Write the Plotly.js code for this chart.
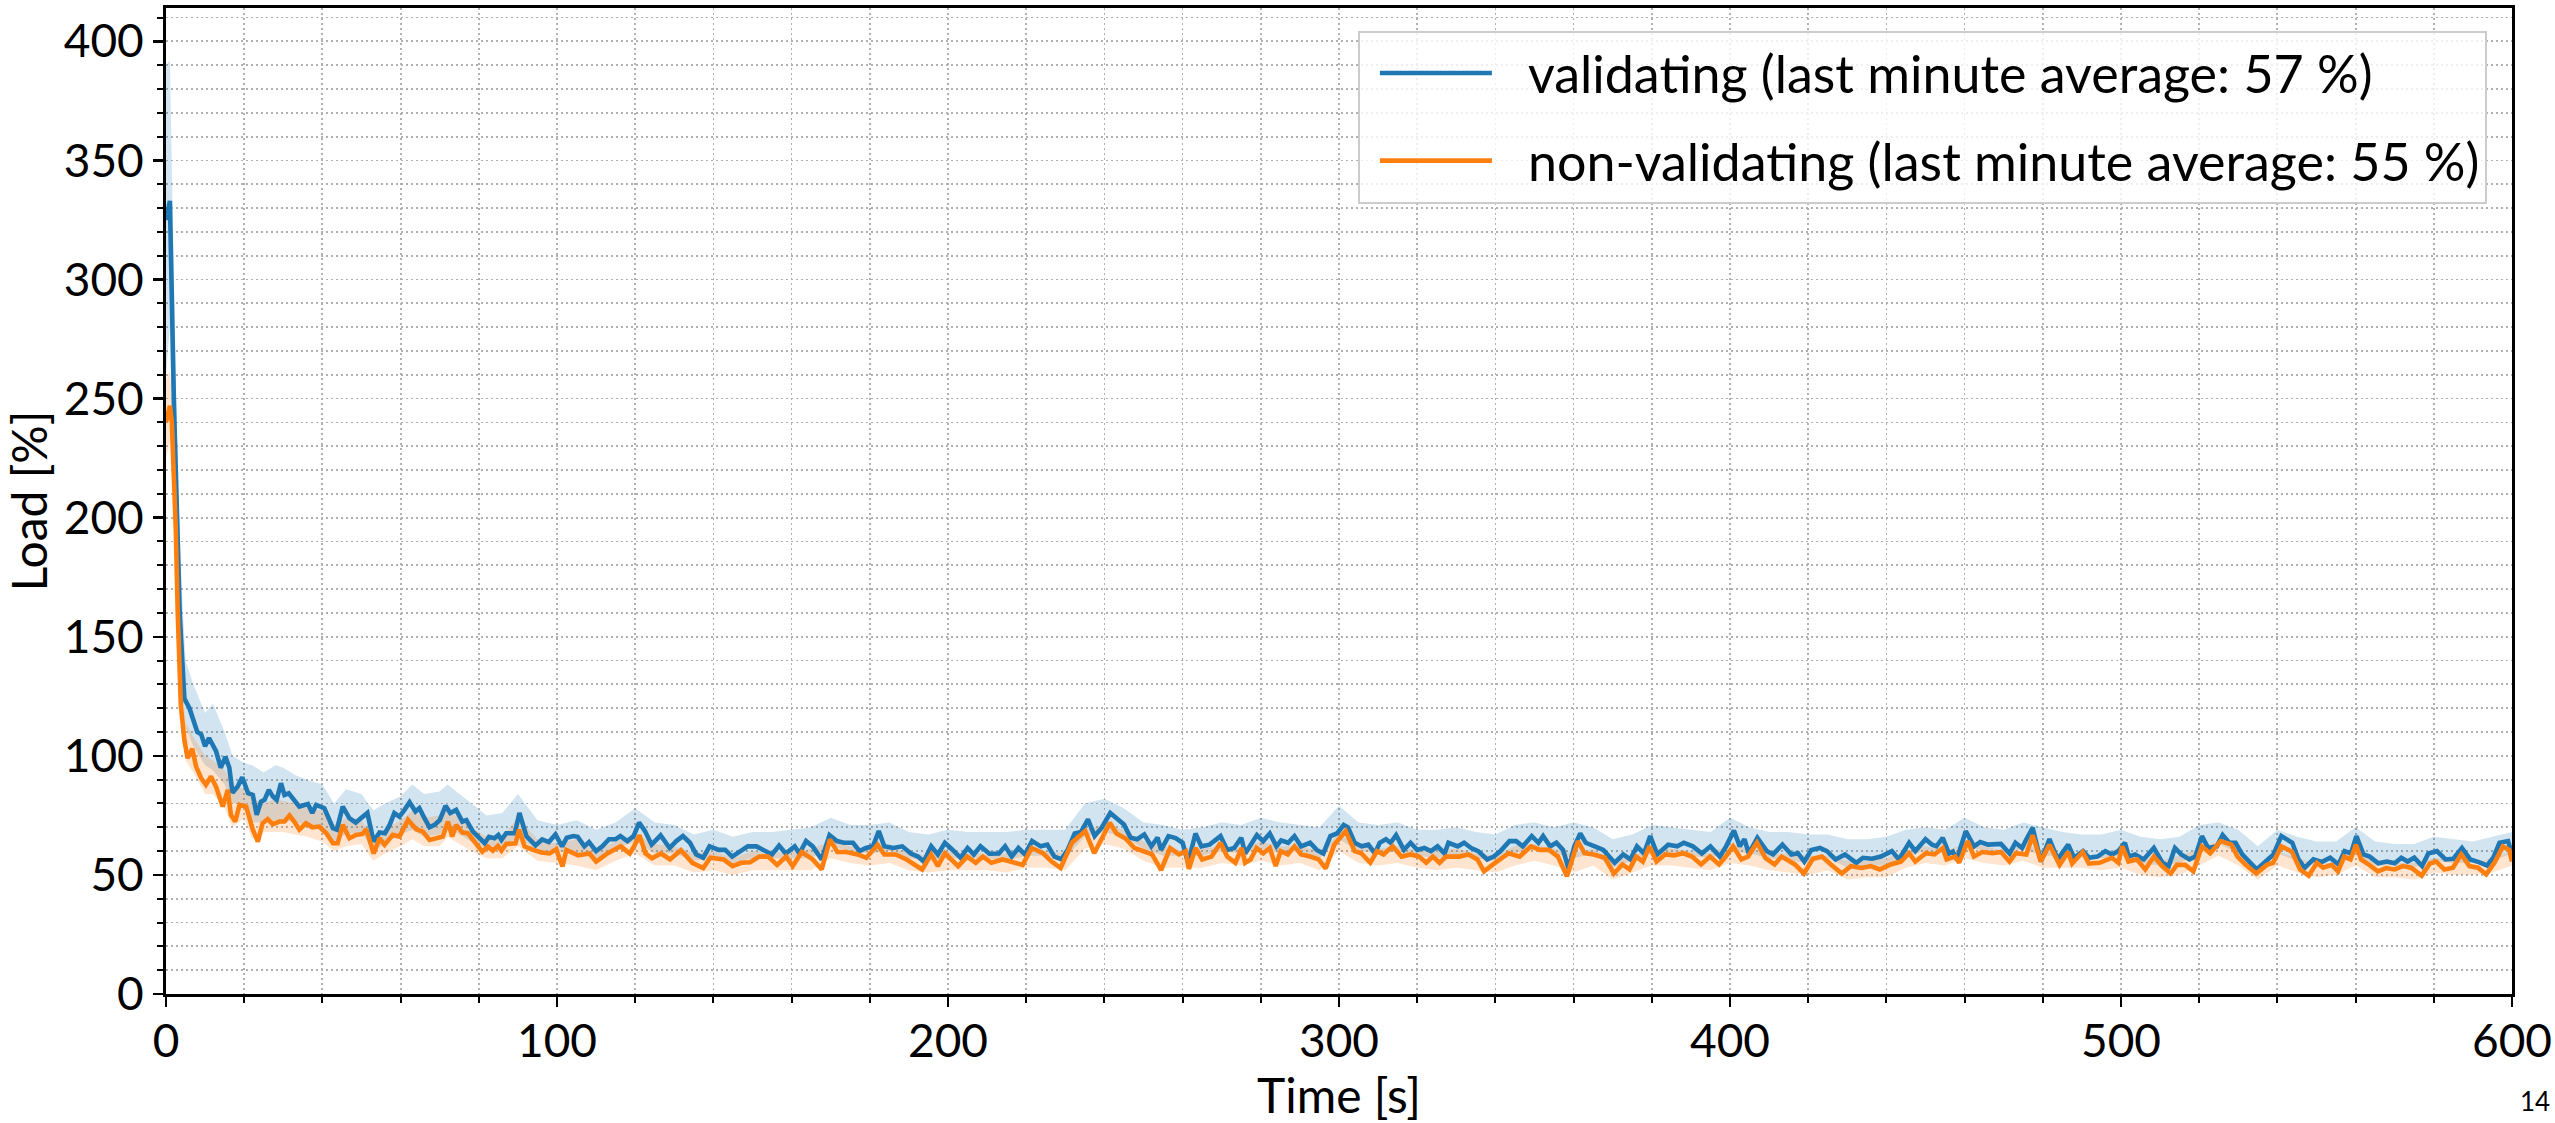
<!DOCTYPE html>
<html>
<head>
<meta charset="utf-8">
<script src="https://cdn.plot.ly/plotly-3.0.1.min.js"></script>
<style>html,body{margin:0;padding:0;background:#fff;}#chart{width:2555px;height:1123px;}</style>
</head>
<body>
<div id="chart"></div>
<script>
// ---- data ----
const seriesNames = [
  'validating (last minute average: 57 %)',
  'non-validating (last minute average: 55 %)'
];
const xTicks = [0, 100, 200, 300, 400, 500, 600];
const yTicks = [0, 50, 100, 150, 200, 250, 300, 350, 400];

const tValidating = [
  0,1,2,2.5,3,3.5,4,4.7,6,6.8,
  8,9,10,11,12.8,14,15.2,16.2,17,18.3,
  19.5,21,22.2,23.2,24.3,25.2,26.3,27.3,28.3,29.4,
  30.3,31.4,32.8,34.1,36.3,37.4,38.4,40.5,42.7,43.7,
  45.2,46.9,48.5,50,51.5,53.1,54.6,56,57.2,58.4,
  59.7,61,62.3,63.8,64.8,66.1,67.4,68.7,70,71.5,
  72.7,74.2,75.8,76.8,78.5,80.2,81.5,82.6,84,85,
  85.8,87,89.2,90.4,92.2,94.5,96.2,97.9,99.6,101.3,
  102.5,104.2,105.3,107,108.2,110,111.6,113.3,115,116.2,
  118,119.6,121,122.5,124.2,126.5,128.8,130.5,132.2,134,
  135.6,137.4,139,141.4,143,144.8,146.5,148.8,151,152.8,
  155,156.8,158.5,160.8,162,163.7,165.4,167.7,169.7,171.6,
  173.4,175.7,177.4,179,180.8,182.3,183.7,186,188.3,190.5,
  192.3,193.8,195.7,197.4,199.2,201,203.2,205,206.6,208.3,
  210.6,213,214.6,216.3,218,219.7,221.5,223.7,225.4,227.2,
  229,230.6,232.4,234,235.8,237.5,239.3,241.5,243.3,245,
  246.7,248.4,250.2,252,253.6,254.5,256.4,258.2,260,261.4,
  263.3,264.8,266.9,269.7,271.4,273.2,275,276,277.2,279,
  280.6,282.3,284,285.2,287,288.6,290.3,292.6,294.3,296,
  297.8,299.5,301.2,302.3,304,305.8,307.5,309.2,310.4,312,
  313.2,314.6,316.6,318.3,320,321.8,323.5,325.2,327,328,
  330.4,332,333.8,335.6,337.9,339.6,341.3,343.6,345.3,347,
  349.3,351,352.2,354,355.6,357.3,358.7,360.2,361.7,363.1,
  365.4,367.6,370.5,372.7,374.5,376.2,378,379.6,381.4,384.2,
  386.5,388.2,390.5,392.8,395,397.4,399,401,402.5,403.7,
  404.8,407,409.4,411,413.4,415.7,417.4,419,420.8,423,
  424.8,427,429.4,432.3,434,436.3,438.6,441.4,443.2,445.8,
  447.4,450,451.7,452.8,454.4,456,457,458,460.3,462.4,
  464,466,469.3,471.5,473,474.7,475.8,477.4,479.5,481.7,
  483.8,486.5,488,490.3,491.8,494,496,497.7,499.3,501,
  502,503.6,505.8,508.4,510.6,512.2,513.8,515.4,517.5,519,
  520.7,522.3,524.5,526,527.7,529.3,531,533,534.7,537,
  539,541,543.8,545.4,547,549.2,551.3,553.5,555.6,557.2,
  558.8,560.2,562,563.6,565.8,568,570,571.7,573.3,575,
  577,578.6,580.8,583,585,587.2,589.3,591.5,593.6,595.2,
  596.8,599,600
];
const loadValidating = [
  325,333,250,215,185,160,145,124,120,116,
  110,109,104,107.5,102,95,99.6,95,84.5,87,
  91,84.3,83.6,75.2,80.8,81.5,85.7,83,81.5,88.5,
  83.6,84.3,81.5,78.7,79.8,76,79.4,78,69.6,69,
  78.7,73.8,72,74.2,76,64,67.8,67.5,71,76,
  74.5,77.3,80.5,76.6,78,73.8,70,71,73,79,
  76,77.3,72.4,73,68.2,65.4,63.3,66,65.4,66.8,
  64.7,67.5,67.5,76,66.2,62.4,64.9,63.8,67,62,
  65.6,66.3,66,62,63.8,60,62,65,65,66.3,
  64.2,66.3,72,68.4,62.7,66.6,61.3,64.2,66.3,63.5,
  58.6,57.2,62,60.5,60.5,57.7,59.3,62,62,60.5,
  58.6,62.3,59,62,59,64.2,62,56.5,66.7,64.2,
  63.5,63.5,60,61.3,62,68.4,62,61.3,62,59,
  57.7,55.6,62,58.6,63.5,60.8,57.2,61.3,58.6,62,
  58.9,59,62,57.7,61.3,58.6,64.2,62,62.7,57.7,
  56.6,60.5,67.4,68,73.3,66.3,69.8,76,73.3,71.2,
  65.6,65,67,62,65.7,60.5,66.3,65.5,63.5,55.1,
  67.4,62,62.7,66.3,60.5,61.3,65.6,59,62,66.7,
  64.2,67.4,62,64.5,63.5,66.3,62,63.5,60.5,59,
  66.3,67.4,71,70,63.5,62,62.7,59,63.5,65,
  63.5,66.7,60.5,63.5,60.5,61.3,60,62,59,63.5,
  62,63.5,61.3,60,56.5,57.7,60,64.2,64.2,62,
  66.3,63.5,66.3,62,63.5,60.5,52.7,62,67.4,63.5,
  62,60.5,55.1,58.6,56.5,62,59,66.3,58.6,62.7,
  62,63.5,62,59,62,57.7,62,68.6,62,65,
  59,65.6,60,58.6,62.7,58.6,59.1,55.6,60.5,61.3,
  60,56.5,58.6,55.1,57.2,56.8,57.7,60,56.5,63.5,
  60,65,62.7,62,65.6,59,59.8,56.5,68.4,62,
  63.8,62.7,63,59,63.5,61.3,65,69.8,55.6,65,
  56.5,62.7,57.2,60,57.2,57.7,60,58.6,60,63.5,
  57.7,58.6,56.5,61.3,55.1,53.7,61.3,58.6,56.5,57.7,
  66.3,61.3,62,66.7,63.5,63.5,58.6,55.1,52.3,55.6,
  58.6,66.3,63.5,56.5,53,56.5,55.4,57.2,54.4,60,
  59,66.3,58.6,57.7,54.9,55.6,54.9,57.2,55.6,57.2,
  53.7,59,60,56.5,56.8,61.3,56.5,55.4,54,57.2,
  63.5,64.2,58.6
];

const tNonValidating = [
  0,1,1.5,2,2.5,3,3.5,3.8,4.7,5.5,
  6.7,7.7,9,10.2,11.5,12.8,14.5,15.8,16.6,17.7,
  18.8,20.5,22.2,23.5,24.7,26,27.3,29,30.3,31.6,
  32.8,34.1,35.8,37.4,39.2,41,42.7,43.9,45.2,46.9,
  48.6,50.3,51.2,53.1,54.6,55.9,58,59.7,61.9,64,
  65.7,67.4,69.1,70.8,72.1,73.2,74.2,75.8,77.2,78.9,
  80.9,82.3,83.6,84.9,85.8,87,89.4,90.3,91.7,93.9,
  96,98.1,99.8,101.4,102.4,105.4,108.3,110,113,116.3,
  118.6,119.7,121.1,122.6,124.3,126.6,128.9,131.7,134.6,137.4,
  139.2,142.6,144.9,147.1,149.4,151.7,154,156.3,158.6,160.3,
  162.6,165.4,167.7,169.8,171.7,174,176.9,179.1,182,183.7,
  186.6,189.4,193.4,195.7,197.4,199.2,202.6,204.9,207.1,208.9,
  211.1,214,216.3,219.1,221.4,224.3,226.5,228.8,231.7,235.1,
  237.4,239.7,241.4,243.1,245.4,247.7,250,252.2,254.5,256.8,
  259.1,260.8,261.6,263.3,265,267.4,269.7,271.4,273.5,275.1,
  276,277.4,278.9,280.6,282.3,283.8,285.1,286.9,288.6,290.3,
  292.6,294.8,296.6,298.8,301.7,304,305.7,308,309.7,311.4,
  313.7,316,318.3,320.5,322.3,324,325.7,327.4,330.8,333.1,
  335.4,337.1,339.4,341.1,343.4,346.2,349.1,351.4,353.7,356,
  358.3,361.1,362.8,365.1,368,370.3,372.5,374.3,376,377.7,
  379.4,381.2,383.4,385.7,388,390.3,392.6,394.9,397.2,398.9,
  400.8,402.9,404.6,406.9,409.1,411.4,413.2,416.6,418.9,421.2,
  423.5,425.8,428.6,430.9,433.7,436,438.3,441.1,443.7,445.8,
  447.4,450.1,452.3,454.4,455.4,457.6,458.6,460.8,462.4,464.5,
  467.2,469.3,471.5,473.1,475.8,477.4,479.5,481.7,484.3,486.5,
  487.5,490.2,491.8,494.5,497.7,499.3,500.3,501.9,504.1,506.2,
  508.4,510.5,512.7,514.3,516.4,518.5,520.7,522.8,525.5,528.2,
  529.8,531.9,534.6,537.3,538.9,541,543.7,545.8,548,550.1,
  551.7,553.9,555.5,557.1,558.7,560.1,561.4,563.5,565.7,567.8,
  570,572.1,574.2,576.9,579,580.6,582.7,584.9,587,589.1,
  591.3,593.4,595.5,597.7,599.3,600
];
const loadNonValidating = [
  240,247,240,220,195,160,135,121,106.6,99,
  103,95.5,90.6,87.8,91.3,87,78.7,85.7,75.2,72.4,
  79.4,78.7,69,64,71.7,73.4,71.3,72.4,72.4,75,
  72.4,69,71.7,70,70.3,67.5,63.3,63.3,71,65.4,
  66.8,67.2,69.2,59,65.4,62.6,66.8,66.1,73.1,69.2,
  68.2,64.7,65.4,66.1,72.4,66.1,71,67.8,67.5,64,
  59.8,61.9,60.2,62.2,60.2,63,63.3,69,62,60.5,
  59.4,59,60.8,53.5,60.5,58.2,59,55.6,59.1,62,
  59,62,66.7,59.1,57,59,56.5,60.4,55.1,52.9,
  57.2,56.5,53.7,55.1,55.3,57.7,57.7,54.2,57.7,53.7,
  59.6,56.5,52.3,64.9,59.6,59.6,58.6,57.2,62.7,58.6,
  58.6,56.5,52.3,58.6,53.7,59.1,53.7,57.7,55.1,57.7,
  55.1,56.5,55.3,54.2,61.3,59.1,55.6,52.9,63.5,68.4,
  59.1,66.3,71.9,67.4,65.3,61.3,60,58.6,52,61.3,
  58.6,60,52.5,61.3,56.5,57.7,63.5,57.7,55.1,61.3,
  55.1,56.5,61.3,59.1,61.3,53.7,60,58.6,62,58.6,
  57.7,56.5,52.7,62.7,68.4,60,59.1,55.1,60,58.6,
  62,57.7,58.6,57.7,55.1,57.7,55.1,57.7,57.7,58.6,
  56.5,51.5,54.4,56.5,59.1,57.7,62,60.5,60.5,57.7,
  49.4,64.2,59.1,58.6,57.2,50.6,54.4,52.3,57.7,55.6,
  62,55.6,58.6,58.2,59.1,57.7,54.4,57.7,54.4,57.7,
  62,56.5,57.7,63.5,57,54.4,57.7,54.4,50.6,56.8,
  57.7,54.4,50.6,53.7,52.9,53.7,52.3,54.4,55.6,59.1,
  55.6,59.1,58.6,61.3,56.5,57.7,55.1,64.2,57.7,59.6,
  59.1,59.6,55.6,59.1,58.6,66.7,55.6,62.7,54.2,59.6,
  54.8,59.6,54.8,55.1,57.2,55.1,62,55.6,56.5,52.3,
  57.7,53.7,50.6,54.2,54.2,51.5,62,59.1,64.2,62.7,
  57.7,54.2,50.6,54.2,55.1,62,59.8,52.3,49.7,55.1,
  53,54.2,51.5,57.7,56.5,62.7,56.5,54.2,51.5,52.9,
  52.3,53.7,53,49.7,54.8,55.6,52.3,53,58.6,53.7,
  53,50.2,55.1,62,60.5,55.6
];

// spread bands (shaded areas)
const tBand = [
  0,1,2,3,4,5,7,10,12,15,17,20,22,25,28,30,33,36,40,43,
  46,50,53,56,60,63,66,70,72,75,78,82,86,90,95,
  100,105,110,115,120,125,130,135,140,145,
  150,155,160,165,170,175,180,185,190,195,
  200,205,210,215,220,225,230,235,240,245,
  250,255,260,265,270,275,280,285,290,295,
  300,305,310,315,320,325,330,335,340,345,
  350,355,360,365,370,375,380,385,390,395,
  400,405,410,415,420,425,430,435,440,445,
  450,455,460,465,470,475,480,485,490,495,
  500,505,510,515,520,525,530,535,540,545,
  550,555,560,565,570,575,580,585,590,595,
  600
];
const validatingUpper = [
  390,392,300,220,172,140,130,118,122,110,100,97,96,93,96,95,92,90,88,80,
  86,84,77,80,83,88,84,85,88,84,80,75,76,84,73,
  71,73,69,72,78,72,71,67,69,66,
  68,68,69,70,74,71,71,72,68,67,
  69,68,68,68,69,69,69,80,82,78,
  72,71,69,70,72,71,74,72,71,70,
  79,72,71,72,69,69,70,68,67,71,
  72,70,72,70,65,67,71,70,69,68,
  74,70,68,68,67,67,65,65,66,69,
  70,69,74,70,69,72,70,68,67,67,
  69,66,65,66,71,72,69,62,69,66,
  64,64,70,64,63,63,66,65,64,66,
  68
];
const validatingLower = [
  260,280,215,165,128,112,104,96,94,88,80,80,72,72,73,73,72,71,69,64,
  67,68,60,63,67,69,66,67,70,67,64,61,61,66,60,
  60,59,57,61,64,59,59,56,57,55,
  57,57,57,57,62,60,59,60,57,56,
  57,57,57,56,58,58,57,66,68,66,
  61,58,58,58,60,59,61,59,60,57,
  65,60,59,60,58,57,58,57,56,59,
  61,59,57,59,53,56,59,59,58,57,
  60,59,57,56,55,57,53,54,54,58,
  60,59,62,60,59,61,58,58,58,57,
  58,55,54,55,59,63,59,53,59,56,
  54,55,59,54,54,53,56,55,55,56,
  59
];
const nonValidatingUpper = [
  258,262,235,172,132,114,108,100,98,94,88,86,82,80,82,81,80,78,77,71,
  74,73,66,69,73,77,74,75,77,74,70,66,66,74,65,
  63,65,60,64,67,63,62,59,60,57,
  60,59,60,61,64,62,61,62,59,58,
  60,59,59,59,60,60,59,69,71,69,
  64,62,60,61,62,61,64,62,62,60,
  67,62,61,62,60,60,61,59,58,62,
  63,61,59,61,56,58,61,61,60,59,
  63,61,59,59,58,58,56,56,57,60,
  62,60,63,62,60,63,60,59,58,58,
  60,57,56,58,61,64,60,53,60,57,
  55,55,60,55,55,55,57,57,55,57,
  60
];
const nonValidatingLower = [
  225,232,205,148,112,98,93,84,84,78,70,74,65,68,68,68,67,66,64,60,
  62,63,56,59,62,65,62,62,66,63,60,57,57,62,56,
  55,54,52,56,59,54,54,51,52,50,
  52,52,52,52,57,55,54,55,52,51,
  52,52,52,51,53,53,52,61,63,61,
  56,53,53,53,55,54,56,54,55,52,
  60,55,54,55,53,52,53,52,51,54,
  56,54,51,54,48,51,54,54,53,52,
  55,54,52,51,50,52,48,49,49,53,
  55,54,57,55,54,56,53,53,53,52,
  53,50,49,50,54,58,54,48,54,51,
  49,50,54,49,49,48,51,50,50,51,
  54
];

// ---- styling ----
const blue = '#1f77b4';
const orange = '#ff7f0e';
const blueFill = 'rgba(31,119,180,0.2)';
const orangeFill = 'rgba(255,127,14,0.2)';
const FONT = 'Lato, "Open Sans", sans-serif';

const traces = [
  {x: tBand, y: validatingLower, type: 'scatter', mode: 'lines', line: {width: 0, color: blueFill},
   showlegend: false, hoverinfo: 'skip', legendgroup: 'v'},
  {x: tBand, y: validatingUpper, type: 'scatter', mode: 'lines', line: {width: 0, color: blueFill},
   fill: 'tonexty', fillcolor: blueFill, showlegend: false, hoverinfo: 'skip', legendgroup: 'v'},
  {x: tBand, y: nonValidatingLower, type: 'scatter', mode: 'lines', line: {width: 0, color: orangeFill},
   showlegend: false, hoverinfo: 'skip', legendgroup: 'n'},
  {x: tBand, y: nonValidatingUpper, type: 'scatter', mode: 'lines', line: {width: 0, color: orangeFill},
   fill: 'tonexty', fillcolor: orangeFill, showlegend: false, hoverinfo: 'skip', legendgroup: 'n'},
  {x: tValidating, y: loadValidating, type: 'scatter', mode: 'lines', name: seriesNames[0],
   line: {color: blue, width: 4.6}, legendgroup: 'v'},
  {x: tNonValidating, y: loadNonValidating, type: 'scatter', mode: 'lines', name: seriesNames[1],
   line: {color: orange, width: 4.6}, legendgroup: 'n'}
];

const gridDash = '2px,3px';
const gridColor = '#b0b0b0';
function axisBase(range, ticks, minorDtick, title) {
  return {
    range: range, tickmode: 'array', tickvals: ticks, ticktext: ticks.map(String),
    ticks: 'outside', ticklen: 10, tickwidth: 2.5, tickcolor: 'black',
    showline: true, linecolor: 'black', linewidth: 3, mirror: true,
    showgrid: true, gridcolor: gridColor, gridwidth: 1.8, griddash: gridDash,
    zeroline: false, automargin: false,
    tickfont: {family: FONT, size: 46, color: 'black'},
    minor: {dtick: minorDtick, tick0: 0, ticks: 'outside', ticklen: 6, tickwidth: 2, tickcolor: 'black',
            showgrid: true, gridcolor: gridColor, gridwidth: 1.8, griddash: gridDash},
    title: {text: title, font: {family: FONT, size: 48, color: 'black'}}
  };
}

const xaxis = axisBase([0, 600], xTicks, 20, 'Time [s]');
xaxis.title.standoff = 4;
xaxis.ticklabelstandoff = -5;
const yaxis = axisBase([0, 414], yTicks, 10, 'Load [%]');
yaxis.title.standoff = 18;

const layout = {
  width: 2555, height: 1123,
  margin: {l: 166, r: 43, t: 8, b: 129, pad: 0},
  paper_bgcolor: 'white', plot_bgcolor: 'white',
  font: {family: FONT, size: 52, color: 'black'},
  showlegend: true,
  legend: {
    x: 0.9893, xanchor: 'right', y: 0.977, yanchor: 'top',
    bgcolor: 'rgba(255,255,255,0.8)', bordercolor: '#cccccc', borderwidth: 2,
    font: {family: FONT, size: 52, color: 'black'},
    traceorder: 'grouped', tracegroupgap: 17, itemwidth: 158
  },
  xaxis: xaxis,
  yaxis: yaxis,
  annotations: [
    {text: '14', xref: 'paper', yref: 'paper', x: 1.0098, y: -0.1085, xanchor: 'center', yanchor: 'middle',
     showarrow: false, font: {family: FONT, size: 26, color: 'black'}}
  ]
};

Plotly.newPlot('chart', traces, layout, {staticPlot: true, displayModeBar: false}).then(function () {
  // lengthen the legend line samples to match the reference
  document.querySelectorAll('.legend .legendlines path').forEach(function (p) {
    p.setAttribute('d', 'M20,0h112');
  });
});
</script>
</body>
</html>
